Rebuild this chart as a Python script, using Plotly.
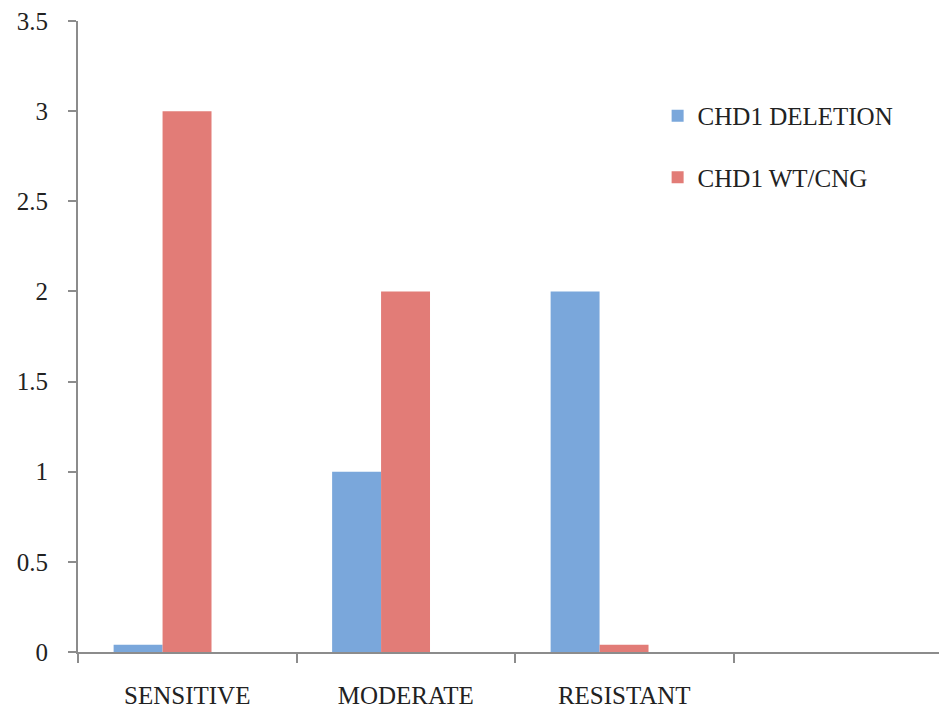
import plotly.graph_objects as go

categories = ["SENSITIVE", "MODERATE", "RESISTANT"]
deletion = [0.04, 1, 2]
wt_cng = [3, 2, 0.04]
y_ticks = [0, 0.5, 1, 1.5, 2, 2.5, 3, 3.5]
y_tick_text = ["0", "0.5", "1", "1.5", "2", "2.5", "3", "3.5"]

xpos = list(range(len(categories)))
FONT = "Liberation Serif"

fig = go.Figure()
fig.add_trace(go.Bar(
    x=xpos, y=deletion, name="CHD1 DELETION", width=0.224, offset=-0.337,
    marker=dict(color="#7aa7db", line=dict(width=0)), legendgroup="a",
))
fig.add_trace(go.Bar(
    x=xpos, y=wt_cng, name="CHD1 WT/CNG", width=0.224, offset=-0.113,
    marker=dict(color="#e27c77", line=dict(width=0)), legendgroup="b",
))

fig.update_layout(
    width=947, height=709,
    margin=dict(l=70, r=8, t=13, b=65, autoexpand=False),
    plot_bgcolor="white", paper_bgcolor="white",
    barmode="overlay",
    font=dict(family=FONT, size=25, color="#222222"),
    legend=dict(x=0.667, y=0.886, xanchor="left", yanchor="top",
                font=dict(family=FONT, size=25, color="#222222"),
                tracegroupgap=26, bgcolor="rgba(0,0,0,0)"),
    showlegend=True,
)
fig.update_xaxes(
    range=[-0.5, 3.477], tickvals=xpos, ticktext=categories,
    ticks="", showgrid=False, zeroline=False, automargin=False,
    showline=True, linecolor="#8c8c8c", linewidth=2,
    ticklabelstandoff=20, ticklabeloverflow="allow",
    tickfont=dict(family=FONT, size=25, color="#222222"),
    minor=dict(tickvals=[-0.5, 0.5, 1.5, 2.5], ticks="outside", ticklen=9,
               tickwidth=2, tickcolor="#8c8c8c", showgrid=False),
)
fig.update_yaxes(
    range=[0, 3.5], tickvals=y_ticks, ticktext=y_tick_text,
    ticks="outside", ticklen=8, tickwidth=2, tickcolor="#8c8c8c",
    showgrid=False, zeroline=False, automargin=False,
    showline=True, linecolor="#8c8c8c", linewidth=2,
    ticklabelstandoff=15, ticklabeloverflow="allow",
    tickfont=dict(family=FONT, size=25, color="#222222"),
)

fig.write_html("out.html")
